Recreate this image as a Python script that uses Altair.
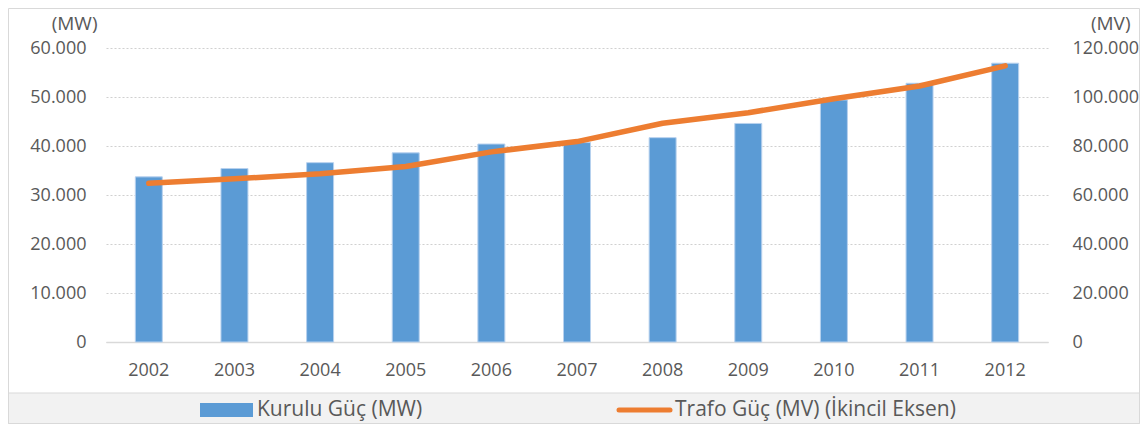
import altair as alt
import pandas as pd

years = ["2002", "2003", "2004", "2005", "2006", "2007", "2008", "2009", "2010", "2011", "2012"]
kurulu_guc = [33700, 35400, 36600, 38600, 40400, 40700, 41700, 44600, 49400, 52800, 56900]
trafo_guc = [64800, 66600, 68700, 71600, 77600, 81800, 89300, 93600, 99300, 104500, 112700]
series_names = ["Kurulu Güç (MW)", "Trafo Güç (MV) (İkincil Eksen)"]
left_ticks = [0, 10000, 20000, 30000, 40000, 50000, 60000]
right_ticks = [0, 20000, 40000, 60000, 80000, 100000, 120000]

df = pd.DataFrame({"year": years, "kurulu": kurulu_guc, "trafo": trafo_guc})

W, H = 942, 294
PAD_L, PAD_T, PAD_R, PAD_B = 98, 40, 92, 82

GREY_TXT = "#595959"
FMT = "replace(format(datum.value, ','), ',', '.')"

xscale = alt.Scale(paddingInner=0.685, paddingOuter=0.3425)
xenc = alt.X("year:N", scale=xscale, sort=years,
             axis=alt.Axis(title=None, labelAngle=0, ticks=False, tickSize=0,
                           labelPadding=19, domainColor="#d9d9d9", domainWidth=1.5,
                           labelFontSize=18, labelColor=GREY_TXT, grid=False))

one = pd.DataFrame({"k": [0]})
band = alt.Chart(one).mark_rect(fill="#f2f2f2", stroke="#d9d9d9", strokeWidth=1).encode(
    x=alt.value(-PAD_L + 0.5), x2=alt.value(W + PAD_R - 0.5),
    y=alt.value(345), y2=alt.value(H + PAD_B - 0.5))
frame = alt.Chart(one).mark_rect(fill=None, stroke="#d9d9d9", strokeWidth=1).encode(
    x=alt.value(-PAD_L + 0.5), x2=alt.value(W + PAD_R - 0.5),
    y=alt.value(-PAD_T + 0.5), y2=alt.value(H + PAD_B - 0.5))

bars = alt.Chart(df).mark_bar(color="#5b9bd5", stroke="#b7d1ee", strokeWidth=1).encode(
    x=xenc,
    y=alt.Y("kurulu:Q", scale=alt.Scale(domain=[0, 60000], nice=False),
            axis=alt.Axis(title="(MW)", values=left_ticks, labelExpr=FMT, orient="left",
                          ticks=False, tickSize=0, domain=False, labelPadding=20,
                          labelFontSize=18, labelColor=GREY_TXT,
                          grid=True, gridDash=[2, 2], gridColor="#d0d0d0", gridWidth=1.2,
                          titleAngle=0, titleX=-9, titleY=-19, titleAlign="right",
                          titleBaseline="alphabetic", titleFontSize=19,
                          titleFontWeight="normal", titleColor=GREY_TXT)))

line = alt.Chart(df).mark_line(color="#ed7d31", strokeWidth=5.5, strokeCap="round",
                               strokeJoin="round").encode(
    x=alt.X("year:N", scale=xscale, sort=years),
    y=alt.Y("trafo:Q", scale=alt.Scale(domain=[0, 120000], nice=False),
            axis=alt.Axis(title="(MV)", values=right_ticks, labelExpr=FMT, orient="right",
                          ticks=False, tickSize=0, domain=False, labelPadding=24,
                          labelFontSize=18, labelColor=GREY_TXT, grid=False,
                          titleAngle=0, titleX=82, titleY=-19, titleAlign="right",
                          titleBaseline="alphabetic", titleFontSize=19,
                          titleFontWeight="normal", titleColor=GREY_TXT)))

plot = alt.layer(bars, line).resolve_scale(y="independent")

lab1 = pd.DataFrame({"label": [series_names[0]]})
lab2 = pd.DataFrame({"label": [series_names[1]]})
leg_rect = alt.Chart(one).mark_rect(color="#5b9bd5").encode(
    x=alt.value(94), x2=alt.value(147), y=alt.value(355), y2=alt.value(369))
leg_text1 = alt.Chart(lab1).mark_text(align="left", baseline="middle", fontSize=21,
                                      color=GREY_TXT).encode(
    x=alt.value(151), y=alt.value(362), text="label:N")
leg_line = alt.Chart(one).mark_rule(color="#ed7d31", strokeWidth=5, strokeCap="round").encode(
    x=alt.value(513), x2=alt.value(564), y=alt.value(362))
leg_text2 = alt.Chart(lab2).mark_text(align="left", baseline="middle", fontSize=21,
                                      color=GREY_TXT).encode(
    x=alt.value(569), y=alt.value(362), text="label:N")

chart = alt.layer(band, frame, plot, leg_rect, leg_text1, leg_line, leg_text2).properties(
    width=W, height=H,
    autosize=alt.AutoSizeParams(type="none"),
    padding={"left": PAD_L, "top": PAD_T, "right": PAD_R, "bottom": PAD_B},
    background="white",
).configure(font="Open Sans").configure_view(stroke=None)

chart.save("out.html", embed_options={"renderer": "svg", "actions": False})
